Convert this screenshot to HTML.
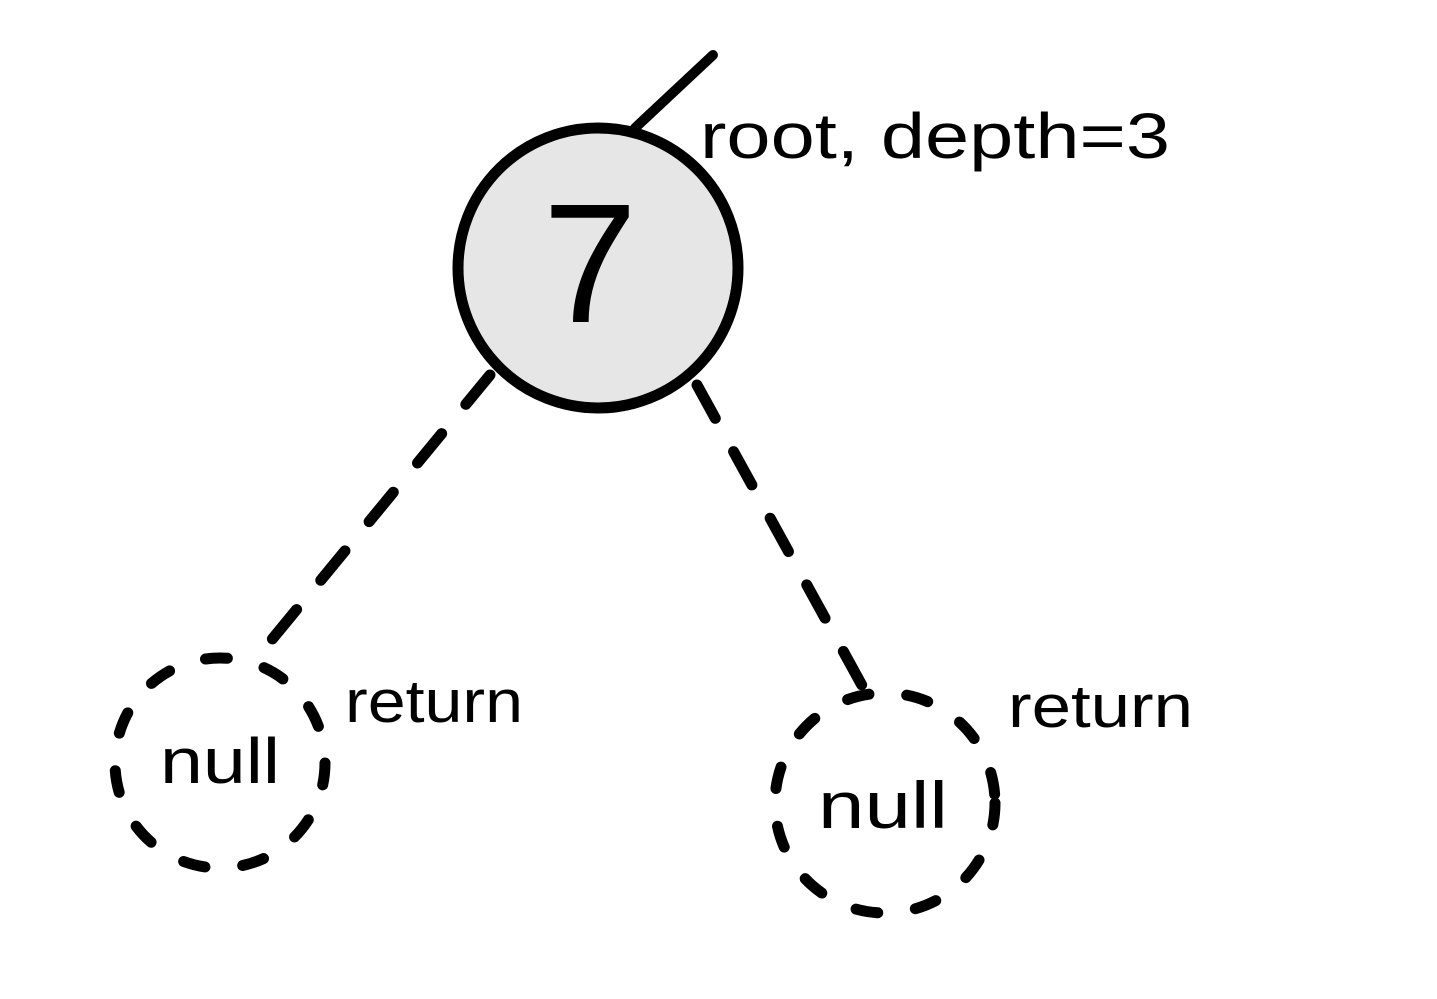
<!DOCTYPE html>
<html><head><meta charset="utf-8"><style>
html,body{margin:0;padding:0;background:#fff;}
svg{display:block}
text{font-family:"Liberation Sans",sans-serif;fill:#000}
</style></head><body>
<svg width="1437" height="999" viewBox="0 0 1437 999">
<line x1="635" y1="128" x2="713" y2="55" stroke="#000" stroke-width="10" stroke-linecap="round"/>
<circle cx="598" cy="268" r="140" fill="#e6e6e6" stroke="#000" stroke-width="11"/>
<text x="590" y="322" font-size="170" text-anchor="middle" font-family="Liberation Sans Narrow, Liberation Sans, sans-serif">7</text>
<text x="700" y="158" font-size="64" textLength="470" lengthAdjust="spacingAndGlyphs">root, depth=3</text>
<line x1="490" y1="375" x2="255" y2="660" stroke="#000" stroke-width="11" stroke-linecap="round" stroke-dasharray="38 38"/>
<line x1="697" y1="385" x2="870" y2="700" stroke="#000" stroke-width="11" stroke-linecap="round" stroke-dasharray="38 38"/>
<circle cx="220" cy="763" r="105" fill="none" stroke="#000" stroke-width="11" stroke-linecap="round" stroke-dasharray="22 38"/>
<circle cx="885" cy="803" r="110" fill="none" stroke="#000" stroke-width="11" stroke-linecap="round" stroke-dasharray="22 38"/>
<text x="160" y="783" font-size="64" textLength="120" lengthAdjust="spacingAndGlyphs">null</text>
<text x="818" y="828" font-size="66" textLength="130" lengthAdjust="spacingAndGlyphs">null</text>
<text x="345" y="722" font-size="60" textLength="178" lengthAdjust="spacingAndGlyphs">return</text>
<text x="1008" y="727" font-size="60" textLength="185" lengthAdjust="spacingAndGlyphs">return</text>
</svg>
</body></html>
